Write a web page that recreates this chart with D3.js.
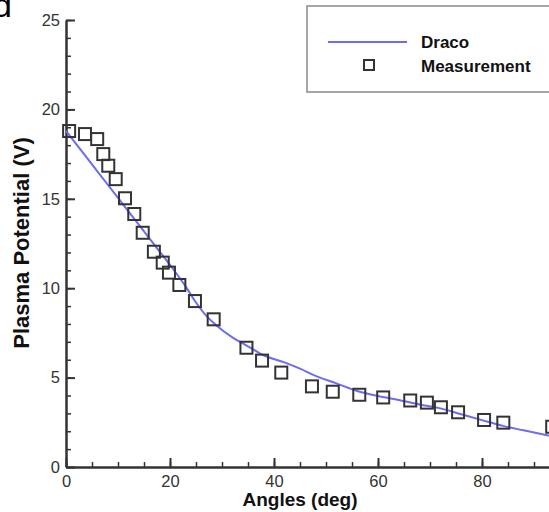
<!doctype html>
<html>
  <head>
    <script src="https://cdn.jsdelivr.net/npm/d3@7/dist/d3.min.js"></script>
    <style>
      body { margin: 0; background: #fff; }
      svg { display: block; font-family: "Liberation Sans", Arial, sans-serif; }
      .axis path, .axis line { stroke: #333; }
      .axis text { fill: #333; font-size: 16.5px; }
    </style>
  </head>
  <body>
    <div id="chart"></div>
    <script>
      // Draco simulation curve (angle in deg, potential in V)
      var dracoAngles = [0, 4, 8, 12, 16, 20, 23, 25, 27, 29, 32, 35, 38, 42, 45, 48, 52, 56, 60, 64, 68, 72, 76, 80, 84, 88, 93];
      var dracoValues = [18.8, 17.3, 15.8, 14.3, 12.8, 11.3, 10.1, 9.2, 8.45, 7.9, 7.25, 6.75, 6.25, 5.85, 5.5, 5.1, 4.68, 4.25, 3.97, 3.75, 3.5, 3.28, 2.95, 2.62, 2.3, 2.05, 1.75];

      // measured points
      var measAngles = [0.6, 3.65, 6.0, 7.17, 8.13, 9.56, 11.35, 13.13, 14.75, 16.9, 18.6, 19.8, 21.8, 24.8, 28.4, 34.7, 37.7, 41.4, 47.3, 51.3, 56.4, 61.0, 66.2, 69.4, 72.1, 75.4, 80.4, 84.1, 93.5];
      var measValues = [18.79, 18.62, 18.34, 17.5, 16.85, 16.1, 15.03, 14.15, 13.1, 12.04, 11.43, 10.87, 10.18, 9.28, 8.26, 6.67, 5.95, 5.28, 4.51, 4.21, 4.04, 3.89, 3.72, 3.6, 3.34, 3.06, 2.63, 2.48, 2.25];

      var xTicks = [0, 20, 40, 60, 80];
      var yTicks = [0, 5, 10, 15, 20, 25];

      var W = 549, H = 512;

      var svg = d3.select("#chart")
        .append("svg")
        .attr("width", W)
        .attr("height", H);

      var x = d3.scaleLinear().domain([0, 100]).range([66, 586]);
      var y = d3.scaleLinear().domain([0, 25]).range([467, 20]);

      // minor ticks
      svg.append("g")
        .attr("class", "axis")
        .attr("transform", "translate(0,467)")
        .call(d3.axisBottom(x).tickValues(d3.range(0, 101, 5)).tickSize(-5).tickSizeOuter(0).tickFormat(""))
        .call(function(g) { g.select(".domain").remove(); })
        .selectAll("line").attr("stroke-width", 1.5);
      svg.append("g")
        .attr("class", "axis")
        .attr("transform", "translate(66,0)")
        .call(d3.axisLeft(y).tickValues(d3.range(0, 26, 1)).tickSize(-5).tickSizeOuter(0).tickFormat(""))
        .call(function(g) { g.select(".domain").remove(); })
        .selectAll("line").attr("stroke-width", 1.5);

      // major ticks
      var gx = svg.append("g")
        .attr("class", "axis")
        .attr("transform", "translate(0,467)")
        .call(d3.axisBottom(x).tickValues(xTicks).tickSize(-9).tickSizeOuter(0).tickPadding(8));
      gx.select(".domain").attr("stroke-width", 2.5);
      gx.selectAll("line").attr("stroke-width", 2);

      var gy = svg.append("g")
        .attr("class", "axis")
        .attr("transform", "translate(66,0)")
        .call(d3.axisLeft(y).tickValues(yTicks).tickSize(-9).tickSizeOuter(0).tickPadding(6));
      gy.select(".domain").attr("stroke-width", 2.5);
      gy.selectAll("line").attr("stroke-width", 2);

      // axis titles
      svg.append("text")
        .attr("x", 300).attr("y", 506)
        .attr("text-anchor", "middle")
        .attr("font-weight", "bold").attr("font-size", 19)
        .attr("fill", "#111")
        .text("Angles (deg)");
      svg.append("text")
        .attr("transform", "translate(29,243) rotate(-90)")
        .attr("text-anchor", "middle")
        .attr("font-weight", "bold").attr("font-size", 22)
        .attr("fill", "#111")
        .text("Plasma Potential (V)");

      // panel letter (cut off in the original)
      svg.append("text")
        .attr("x", 12).attr("y", 17)
        .attr("text-anchor", "end")
        .attr("font-size", 34)
        .attr("fill", "#000")
        .text("d");

      // Draco line
      var dracoData = dracoAngles.map(function(a, i) { return {a: a, v: dracoValues[i]}; });
      svg.append("path")
        .datum(dracoData)
        .attr("fill", "none")
        .attr("stroke", "#6d6bf5")
        .attr("stroke-width", 2)
        .attr("d", d3.line()
          .curve(d3.curveMonotoneX)
          .x(function(d) { return x(d.a); })
          .y(function(d) { return y(d.v); }));

      // measurement squares
      var ms = 12;
      var measData = measAngles.map(function(a, i) { return {a: a, v: measValues[i]}; });
      svg.selectAll(".meas")
        .data(measData)
        .enter()
        .append("rect")
        .attr("class", "meas")
        .attr("x", function(d) { return x(d.a) - ms / 2; })
        .attr("y", function(d) { return y(d.v) - ms / 2; })
        .attr("width", ms).attr("height", ms)
        .attr("fill", "none")
        .attr("stroke", "#333")
        .attr("stroke-width", 2);

      // legend
      var lg = svg.append("g");
      lg.append("rect")
        .attr("x", 307).attr("y", 6)
        .attr("width", 260).attr("height", 86)
        .attr("fill", "#fff")
        .attr("stroke", "#888").attr("stroke-width", 1.5);
      lg.append("line")
        .attr("x1", 328).attr("x2", 407)
        .attr("y1", 42).attr("y2", 42)
        .attr("stroke", "#6d6bf5").attr("stroke-width", 2);
      lg.append("rect")
        .attr("x", 364).attr("y", 60)
        .attr("width", 10).attr("height", 10)
        .attr("fill", "none")
        .attr("stroke", "#333").attr("stroke-width", 2);
      lg.append("text")
        .attr("x", 421).attr("y", 48)
        .attr("font-weight", "bold").attr("font-size", 17)
        .attr("fill", "#111")
        .text("Draco");
      lg.append("text")
        .attr("x", 421).attr("y", 72)
        .attr("font-weight", "bold").attr("font-size", 17)
        .attr("fill", "#111")
        .text("Measurement");
    </script>
  </body>
</html>
